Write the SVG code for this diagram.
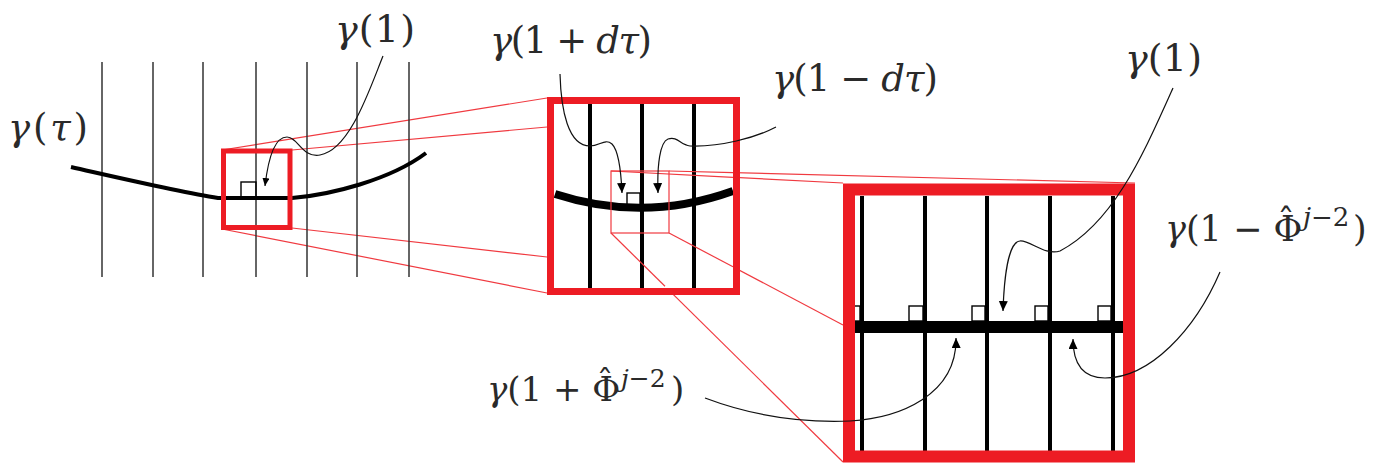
<svg xmlns="http://www.w3.org/2000/svg" width="1382" height="463" viewBox="0 0 1382 463">
<style>
.bg{fill:#fff}
.grid1{stroke:#333;stroke-width:1.5}
.grid2{stroke:#000;stroke-width:4}
.curve{fill:none;stroke:#000;stroke-linecap:butt}
.rbox{fill:none;stroke:#ed1c24}
.zl{stroke:#f03a40;stroke-width:1.2;fill:none}
.ra{fill:none;stroke:#000;stroke-width:1.4}
.conn{fill:none;stroke:#111;stroke-width:1.2}
text{font-family:"DejaVu Serif","Liberation Serif",serif;fill:#2a2a2a;font-weight:normal}
.it{font-style:italic}
</style>
<defs>
<marker id="ah" markerUnits="userSpaceOnUse" markerWidth="11" markerHeight="10" refX="10" refY="4.5" orient="auto">
<path d="M0,0 L10,4.5 L0,9 z" fill="#000"/>
</marker>
<marker id="ahs" markerUnits="userSpaceOnUse" markerWidth="9" markerHeight="8" refX="8" refY="3.5" orient="auto">
<path d="M0,0 L8,3.5 L0,7 z" fill="#000"/>
</marker>
</defs>
<rect class="bg" x="0" y="0" width="1382" height="463"/>

<g id="zoom-lines">
<line class="zl" x1="222" y1="150" x2="547" y2="98"/>
<line class="zl" x1="292" y1="150" x2="547" y2="127"/>
<line class="zl" x1="222" y1="229" x2="547" y2="293"/>
<line class="zl" x1="292" y1="228" x2="547" y2="257"/>
<line class="zl" x1="611" y1="171" x2="843" y2="183"/>
<line class="zl" x1="669" y1="171" x2="1135" y2="183"/>
<line class="zl" x1="611" y1="233" x2="843" y2="462"/>
<line class="zl" x1="669" y1="233" x2="843" y2="325"/>
</g>

<g id="left-panel">
<g class="grid1">
<line x1="102" y1="62" x2="102" y2="277"/>
<line x1="153" y1="62" x2="153" y2="277"/>
<line x1="203" y1="62" x2="203" y2="277"/>
<line x1="256" y1="62" x2="256" y2="277"/>
<line x1="307" y1="62" x2="307" y2="277"/>
<line x1="357" y1="62" x2="357" y2="277"/>
<line x1="409" y1="62" x2="409" y2="277"/>
</g>
<path class="curve" stroke-width="4" d="M71,167 C120,178 180,192 218,198 L292,198 C330,195 390,180 426,153"/>
<rect class="ra" x="241" y="182" width="15" height="15"/>
<rect class="rbox" stroke-width="5" x="223.5" y="151" width="66.5" height="76.5"/>
</g>

<g id="middle-panel">
<rect x="550.5" y="100.5" width="186" height="191" fill="#fff"/>
<g class="grid2">
<line x1="590" y1="104" x2="590" y2="288"/>
<line x1="642" y1="104" x2="642" y2="288"/>
<line x1="694" y1="104" x2="694" y2="288"/>
</g>
<path class="curve" stroke-width="8" d="M555,194 Q644,223 733,191"/>
<rect class="ra" x="627" y="193" width="13" height="12"/>
<line class="zl" x1="611" y1="171" x2="733" y2="177.3"/>
<line class="zl" x1="669" y1="171" x2="733" y2="172.6"/>
<line class="zl" x1="669" y1="233" x2="733" y2="266.8"/>
<line class="zl" x1="611" y1="233" x2="665" y2="286.3"/>
<rect class="zl" x="611" y="171" width="58" height="62"/>
<rect class="rbox" stroke-width="7" x="550.5" y="100.5" width="186" height="191"/>
</g>

<g id="right-panel">
<rect x="849" y="190" width="280" height="267" fill="#fff"/>
<g class="grid2">
<line x1="862" y1="196" x2="862" y2="452"/>
<line x1="925" y1="196" x2="925" y2="452"/>
<line x1="987" y1="196" x2="987" y2="452"/>
<line x1="1050" y1="196" x2="1050" y2="452"/>
<line x1="1113" y1="196" x2="1113" y2="452"/>
</g>
<rect x="855" y="321" width="268" height="12" fill="#000"/>
<rect class="ra" x="846" y="306" width="14" height="15"/>
<rect class="ra" x="909" y="306" width="14" height="15"/>
<rect class="ra" x="972" y="306" width="13" height="15"/>
<rect class="ra" x="1035" y="306" width="13" height="15"/>
<rect class="ra" x="1098" y="306" width="13" height="15"/>
<rect class="rbox" stroke-width="12" x="849" y="189.5" width="280" height="267"/>
</g>

<g id="connectors">
<path class="conn" marker-end="url(#ahs)" d="M383,56 C370,88 350,150 320,155 C302,158 298,137 287,137 C274,137 268,160 265,186"/>
<path class="conn" marker-end="url(#ah)" d="M560,74 C561,110 568,146 590,146 C600,146 605,138 612,144 C618,150 621,170 622,193"/>
<path class="conn" marker-end="url(#ah)" d="M776,127 C755,138 720,147 690,146 C680,145 678,136 668,139 C660,142 657,165 658,193"/>
<path class="conn" marker-end="url(#ah)" d="M1173,88 C1145,150 1115,222 1060,251 C1045,256 1030,240 1020,241 C1008,242 1004,280 1003,311"/>
<path class="conn" marker-end="url(#ah)" d="M705,398 C750,415 800,423 850,421 C900,418 957,395 956,338"/>
<path class="conn" marker-end="url(#ah)" d="M1220,272 C1195,330 1150,378 1105,378 C1080,378 1073,360 1073,339"/>
</g>

<g id="labels">
<text id="lbl-gamma-tau" x="8" y="140" font-size="37" textLength="80"><tspan class="it">γ</tspan>(<tspan class="it">τ</tspan>)</text>
<text id="lbl-gamma1-left" x="335" y="42" font-size="38" textLength="80"><tspan class="it">γ</tspan>(1)</text>
<text id="lbl-plus-dtau" x="490" y="53" font-size="37" textLength="162"><tspan class="it">γ</tspan>(1 + <tspan class="it">dτ</tspan>)</text>
<text id="lbl-minus-dtau" x="772" y="91" font-size="37" textLength="166"><tspan class="it">γ</tspan>(1 − <tspan class="it">dτ</tspan>)</text>
<text id="lbl-gamma1-right" x="1125" y="71" font-size="38" textLength="77"><tspan class="it">γ</tspan>(1)</text>
<text id="lbl-minus-phi" x="1165" y="241" font-size="35"><tspan class="it">γ</tspan>(1 − Φ<tspan x="1286" y="234" text-anchor="middle">ˆ</tspan><tspan x="1303" y="226" font-size="26" class="it">j</tspan><tspan y="226" font-size="26">−2</tspan><tspan x="1353" y="241">)</tspan></text>
<text id="lbl-plus-phi" x="487" y="401" font-size="34"><tspan class="it">γ</tspan>(1 + Φ<tspan x="605" y="394" text-anchor="middle">ˆ</tspan><tspan x="621" y="387" font-size="25" class="it">j</tspan><tspan y="387" font-size="25">−2</tspan><tspan x="671" y="401">)</tspan></text>
</g>
</svg>
